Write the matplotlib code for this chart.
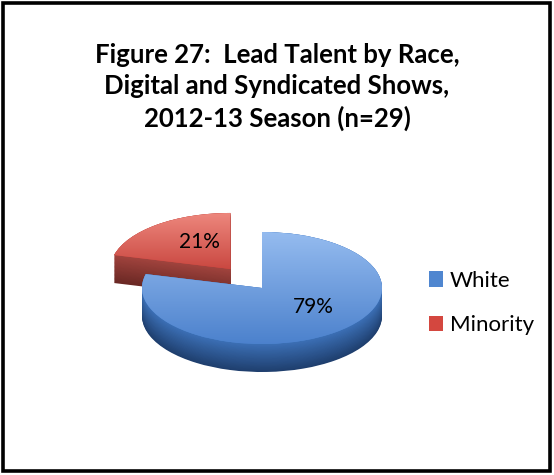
import matplotlib
matplotlib.use("Agg")
import matplotlib.pyplot as plt
import numpy as np
from matplotlib.patches import Rectangle
from matplotlib.colors import to_rgb

categories = ["White", "Minority"]
values = [79, 21]
pct_labels = ["79%", "21%"]
title = "Figure 27:  Lead Talent by Race,\nDigital and Syndicated Shows,\n2012-13 Season (n=29)"

top_colors = ["#4f86d0", "#d4473f"]
side_light = ["#3c70b6", "#a2443e"]
side_dark = ["#1f3f6e", "#6a2824"]
grad_top = [("#97bdf0", "#4a80cc"), ("#ef8a80", "#c8453e")]
explode = [0, 0.43]

W, H = 554, 475
fig = plt.figure(figsize=(W / 100, H / 100), dpi=100)
fig.patch.set_facecolor("white")

# border
fig.add_artist(Rectangle((3 / W, 4 / H), 547 / W, 468 / H, transform=fig.transFigure,
                         fill=False, edgecolor="black", linewidth=2.6))

fig.text(277 / W, 1 - 87 / H, title, ha="center", va="center", fontsize=18.5,
         fontweight="bold", family="Lato", linespacing=1.36, color="black")

# pie axes: 1 unit = 120 px horizontally, 56 px vertically
cx, cy = 262, 288
ax_h = 180
ax = fig.add_axes([(cx - 180) / W, (H - cy - ax_h / 2) / H, 360 / W, ax_h / H])

depth = 0.5
nlayers = 36
order = [1, 0]  # draw minority (back) first
tops = {}
for i in order:
    for d in np.linspace(depth, 0.0, nlayers):
        f = d / depth
        col = np.array(to_rgb(side_light[i])) * (1 - f) + np.array(to_rgb(side_dark[i])) * f
        cols = [col, col]
        wedges, _ = ax.pie(values, startangle=90, counterclock=False, explode=explode,
                           center=(0, -d), radius=1.0, colors=cols,
                           wedgeprops=dict(linewidth=0), frame=True)
        for j, w in enumerate(wedges):
            if j != i:
                w.remove()
    wedges, _ = ax.pie(values, startangle=90, counterclock=False, explode=explode,
                       center=(0, 0), radius=1.0, colors=top_colors,
                       wedgeprops=dict(linewidth=0), frame=True)
    for j, w in enumerate(wedges):
        if j != i:
            w.remove()
    tw = wedges[i]
    tops[i] = tw
    c1 = np.array(to_rgb(grad_top[i][0]))
    c2 = np.array(to_rgb(grad_top[i][1]))
    t = np.linspace(0, 1, 100)[:, None]
    img = (c1[None, :] * (1 - t) + c2[None, :] * t)[:, None, :]
    img = np.repeat(img, 2, axis=1)
    bb = tw.get_path().get_extents()
    im = ax.imshow(img, extent=(bb.x0 - 0.1, bb.x1 + 0.1, bb.y0 - 0.05, bb.y1 + 0.05),
                   aspect="auto", origin="upper", zorder=tw.get_zorder() + 0.1)
    im.set_clip_path(tw)

ylim = ax_h / 2 / 56
ax.set_xlim(-1.5, 1.5)
ax.set_ylim(-ylim, ylim)
ax.set_aspect("auto")
ax.axis("off")

# percentage labels
ax.text(0.425, -0.34, pct_labels[0], ha="center", va="center", fontsize=15, family="Lato", zorder=10)
ax.text(-0.52, 0.82, pct_labels[1], ha="center", va="center", fontsize=15, family="Lato", zorder=10)

leg = ax.legend([tops[0], tops[1]], categories, loc="center left",
                bbox_to_anchor=(411 / W, 1 - 303 / H), bbox_transform=fig.transFigure,
                frameon=False, prop=dict(family="Lato", size=16), handlelength=0.64,
                handleheight=0.7, handletextpad=0.3, labelspacing=1.12, borderpad=0.3)

fig.savefig("out.png", dpi=100, facecolor="white")
